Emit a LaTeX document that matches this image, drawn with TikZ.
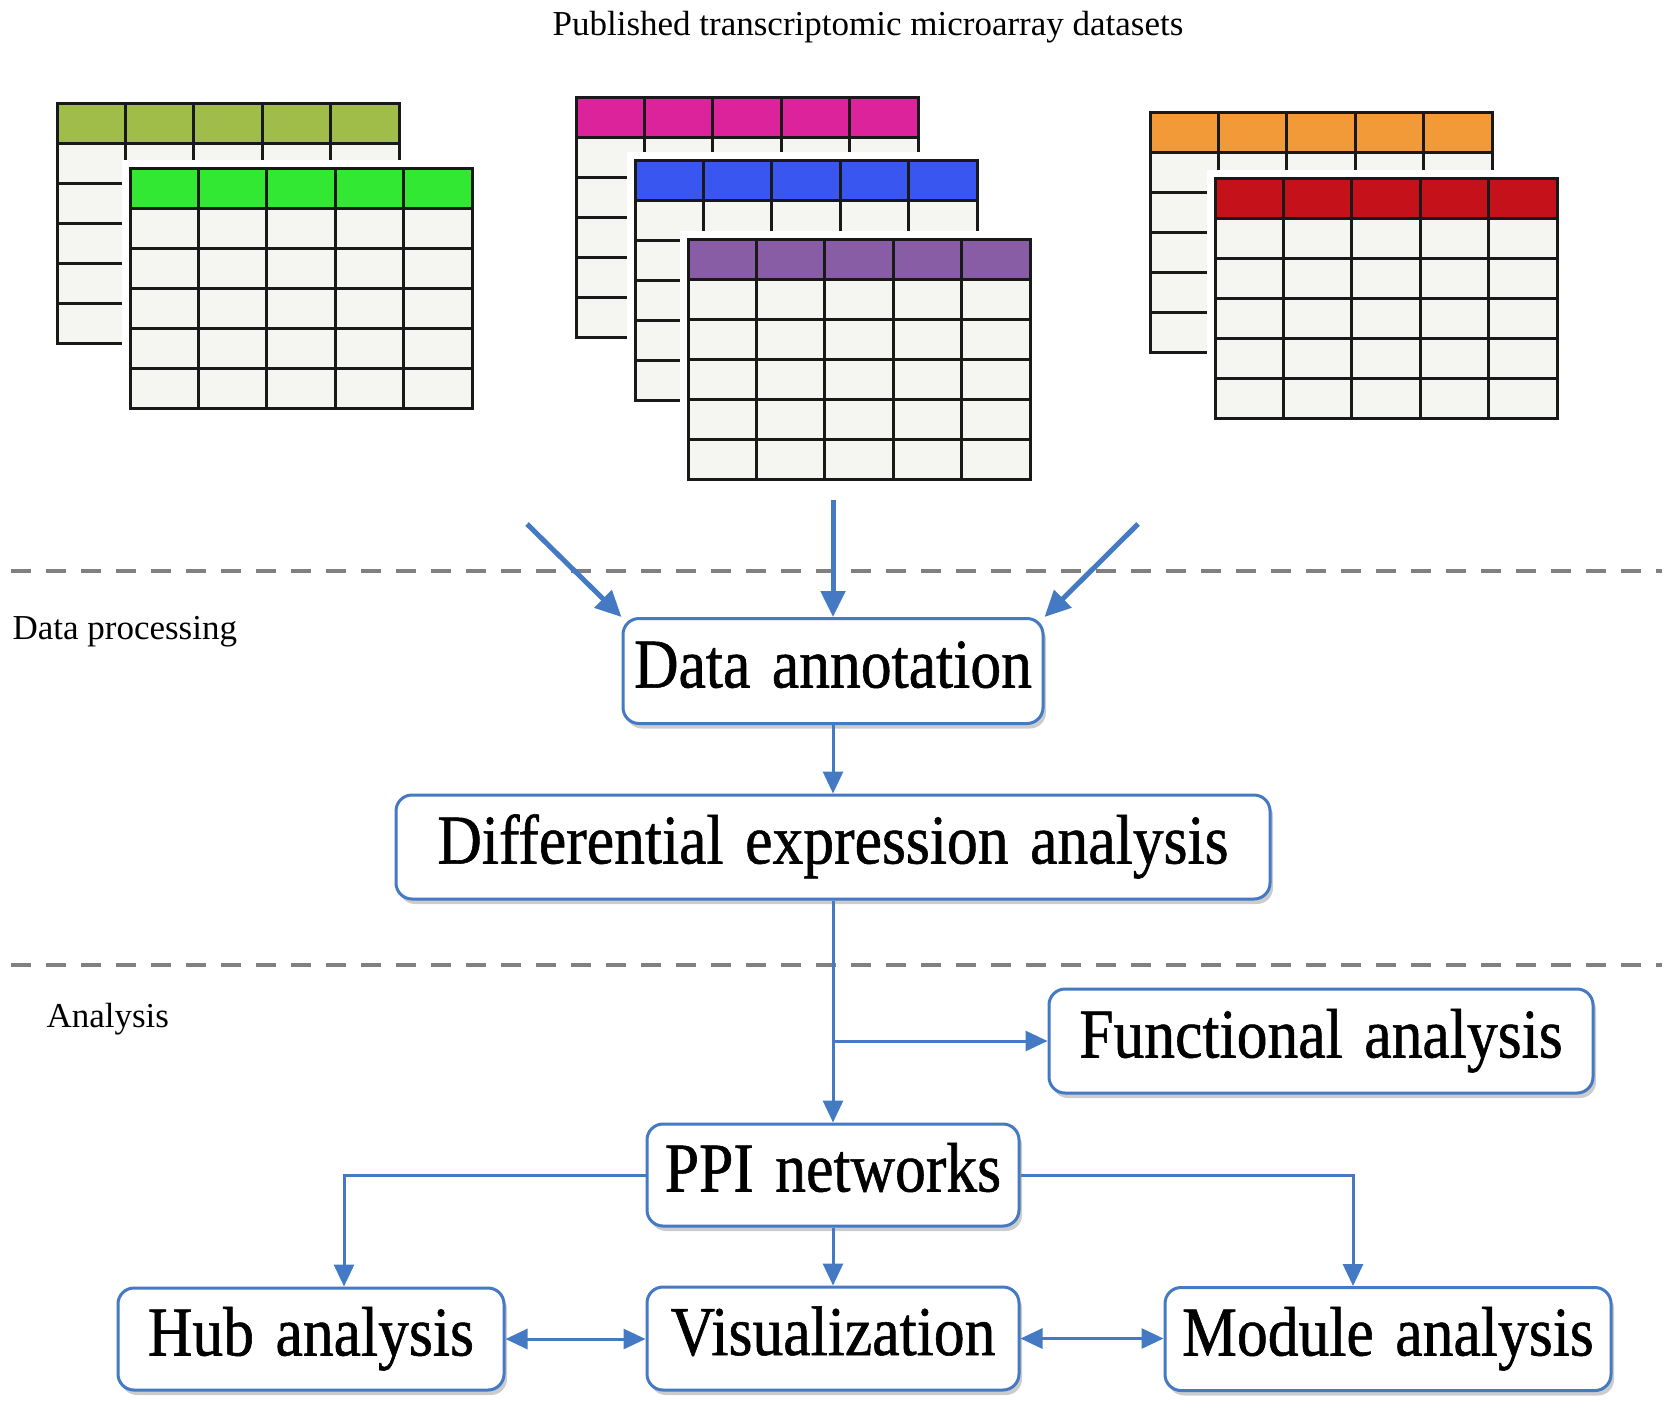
\documentclass[tikz,border=0pt]{standalone}
\usepackage{fontspec}
\setmainfont{Liberation Serif}
\newfontfamily\boxfont{Liberation Serif}[FakeStretch=0.88,FakeBold=0.8,WordSpace=1.4]
\usepackage{tikz}
\usetikzlibrary{
  arrows.meta,
  positioning,  % Function "of" (e.g. [below=of x])
  shadows,      % Style "drop shadow"
}
\definecolor{flowblue}{RGB}{68,121,196}
\definecolor{cellgray}{RGB}{245,245,241}
\definecolor{olivehead}{RGB}{161,189,73}
\definecolor{greenhead}{RGB}{50,232,50}
\definecolor{magentahead}{RGB}{221,35,155}
\definecolor{bluehead}{RGB}{58,86,240}
\definecolor{purplehead}{RGB}{137,92,166}
\definecolor{orangehead}{RGB}{242,153,56}
\definecolor{redhead}{RGB}{197,18,26}
\def\cellw{68.4}
\def\cellh{40}
\def\tabw{342}
\def\tabh{240}
\def\myvdist{58pt}
% Table with coloured header row, top left corner at (#1,#2)
\newcommand{\dtable}[3]{%
  \begin{scope}[shift={(#1,#2)}]
    \fill[white] (-8,-8) rectangle (\tabw+8,\tabh+8);
    \fill[cellgray] (0,0) rectangle (\tabw,\tabh);
    \fill[#3] (0,0) rectangle (\tabw,\cellh);
    \foreach \row in {1,...,5}
      \draw[grid line] (0,\row*\cellh) -- (\tabw,\row*\cellh);
    \foreach \col in {1,...,4}
      \draw[grid line] (\col*\cellw,0) -- (\col*\cellw,\tabh);
    \draw[grid line] (0,0) rectangle (\tabw,\tabh);
  \end{scope}}
\tikzset{
  font=\fontsize{35}{40}\selectfont,
  grid line/.style={
    line width=3pt,
    draw=black!90
  },
  my box/.style={
    draw=flowblue,
    line width=3pt,
    rounded corners=16pt,
    fill=white,
    inner sep=0pt,
    font=\boxfont\fontsize{70}{80}\selectfont,
    text height=48pt,
    text depth=15pt,
    drop shadow={shadow xshift=3pt,shadow yshift=-5pt,fill=black!40,opacity=0.5}
  },
  my arrow/.style={
    draw=flowblue,
    line width=3pt,
    -{Triangle[length=22pt,width=20pt]}
  },
  my both/.style={
    my arrow,
    {Triangle[length=22pt,width=20pt]}-{Triangle[length=22pt,width=20pt]}
  },
  feed/.style={
    draw=flowblue,
    line width=5pt,
    -{Triangle[length=26pt,width=24pt]}
  },
  sep line/.style={
    draw=black!50,
    line width=4pt,
    dash pattern=on 20pt off 15pt
  }
}
\begin{document}
\begin{tikzpicture}[x=1pt,y=-1pt]
\useasboundingbox (0,0) rectangle (1677,1419);
\node[anchor=base] (title) at (868,35) {Published transcriptomic microarray datasets};
\dtable{57}{103}{olivehead}
\dtable{130}{168}{greenhead}
\dtable{576}{97}{magentahead}
\dtable{635}{160}{bluehead}
\dtable{688}{239}{purplehead}
\dtable{1150}{112}{orangehead}
\dtable{1215}{178}{redhead}
\draw[sep line] (11,571) -- (1662,571);
\draw[sep line] (11,965) -- (1662,965);
\node[anchor=base west] (proc) at (9,639) {Data processing};
\node[anchor=base west] (anal) at (43,1027) {Analysis};
\node[my box,minimum width=420pt,minimum height=105pt] (annot) at (833,671) {Data annotation};
\node[my box,minimum width=874pt,minimum height=104pt] (diff) at (833,847) {Differential expression analysis};
\node[my box,minimum width=544pt,minimum height=104pt] (func) at (1321,1041) {Functional analysis};
\node[my box,minimum width=372pt,minimum height=102pt] (ppi) at (833,1175) {PPI networks};
\node[my box,minimum width=372pt,minimum height=103pt,below=\myvdist of ppi] (vis) {Visualization};
\node[my box,minimum width=386pt,minimum height=102pt] (hub) at (311,1339) {Hub analysis};
\node[my box,minimum width=446pt,minimum height=103pt] (mod) at (1388,1339) {Module analysis};
\coordinate (fromL) at (527,524);
\coordinate (fromM) at (833,500);
\coordinate (fromR) at (1138,524);
\draw[feed] (fromL) -- (annot.north west);
\draw[feed] (fromM) -- (annot.north);
\draw[feed] (fromR) -- (annot.north east);
\draw[my arrow] (annot) -- (diff);
\draw[my arrow] (diff) -- (ppi);
\draw[my arrow] (diff.south |- func.west) -- (func.west);
\draw[my arrow] (ppi.west) -| ([xshift=33pt]hub.north);
\draw[my arrow] (ppi.east) -| ([xshift=-35pt]mod.north);
\draw[my arrow] (ppi) -- (vis);
\draw[my both] (hub.east) -- (hub.east -| vis.west);
\draw[my both] (vis.east) -- (vis.east -| mod.west);
\end{tikzpicture}
\end{document}
